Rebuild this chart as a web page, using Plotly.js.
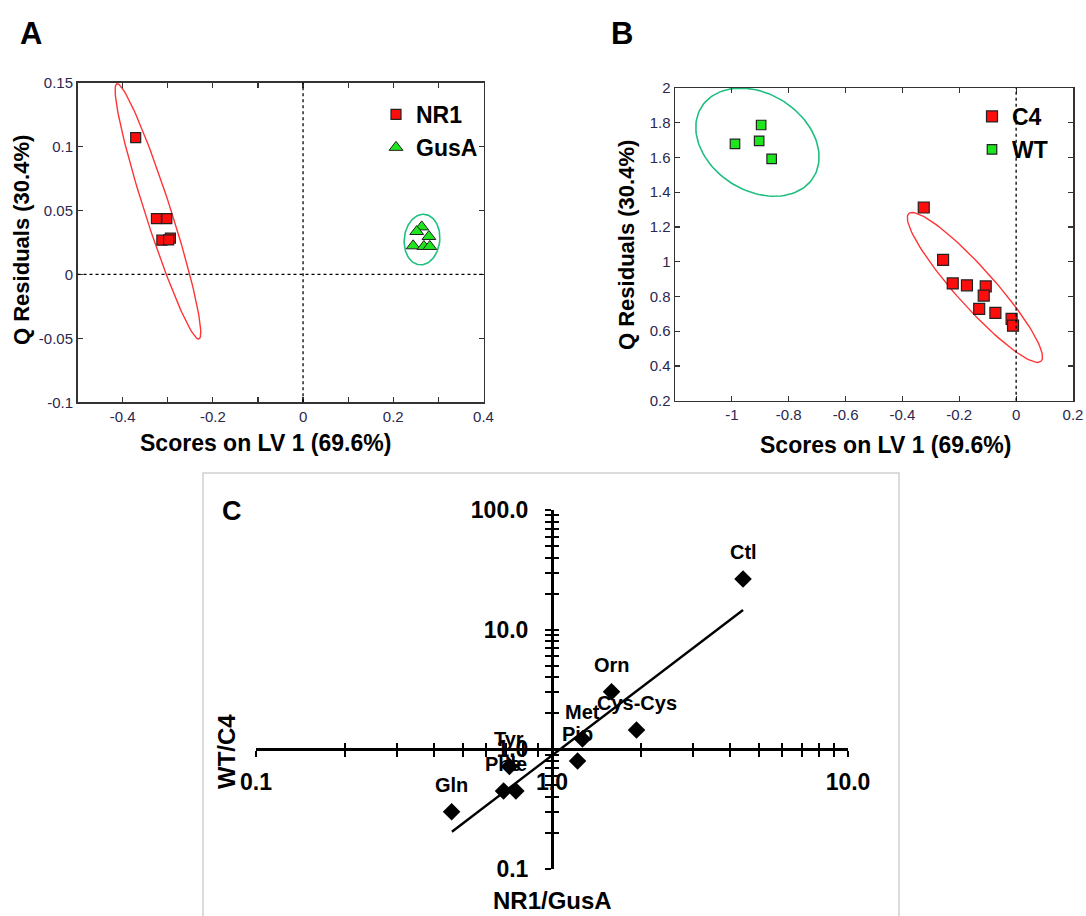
<!DOCTYPE html>
<html>
<head>
<meta charset="utf-8">
<script src="https://cdn.plot.ly/plotly-3.0.1.min.js"></script>
<style>html,body{margin:0;padding:0;background:#fff;}#chart{width:1086px;height:916px;}</style>
</head>
<body>
<div id="chart"></div>
<script>
// ---------- Panel A data ----------
const nr1X = [-0.371, -0.325, -0.302, -0.313, -0.294, -0.298];
const nr1Y = [0.107, 0.0437, 0.0437, 0.0268, 0.0284, 0.027];
const gusX = [0.263, 0.252, 0.279, 0.244, 0.268, 0.281];
const gusY = [0.0372, 0.0336, 0.0297, 0.0224, 0.0219, 0.0219];
// ellipse params: [centerX, centerY, u_x, u_y, v_x, v_y]
const nr1Ellipse = [-0.3217, 0.0493, 0.0909, -0.0998, 0.0271, 0.00305];
const gusEllipse = [0.2637, 0.0273, 0.0395, 0.0, 0.003, 0.0198];
const aXTickVals = [-0.4, -0.3, -0.2, -0.1, 0, 0.1, 0.2, 0.3, 0.4];
const aXTickText = ['-0.4', '', '-0.2', '', '0', '', '0.2', '', '0.4'];
const aYTickVals = [-0.1, -0.05, 0, 0.05, 0.1, 0.15];
const aYTickText = ['-0.1', '-0.05', '0', '0.05', '0.1', '0.15'];

// ---------- Panel B data ----------
const c4X = [-0.325, -0.257, -0.223, -0.173, -0.107, -0.114, -0.130, -0.073, -0.016, -0.011];
const c4Y = [1.312, 1.011, 0.875, 0.864, 0.858, 0.805, 0.728, 0.705, 0.671, 0.632];
const wtX = [-0.989, -0.897, -0.904, -0.860];
const wtY = [1.678, 1.787, 1.696, 1.592];
const c4Ellipse = [-0.145, 0.852, 0.232, -0.426, 0.052, 0.0695];
const wtEllipse = [-0.910, 1.688, 0.215, -0.046, -0.028, 0.308];
const bXTickVals = [-1, -0.8, -0.6, -0.4, -0.2, 0, 0.2];
const bXTickText = ['-1', '-0.8', '-0.6', '-0.4', '-0.2', '0', '0.2'];
const bYTickVals = [0.2, 0.4, 0.6, 0.8, 1, 1.2, 1.4, 1.6, 1.8, 2];
const bYTickText = ['0.2', '0.4', '0.6', '0.8', '1', '1.2', '1.4', '1.6', '1.8', '2'];

// ---------- Panel C data ----------
const cLabels = ['Ctl', 'Orn', 'Cys-Cys', 'Met', 'Pip', 'Tyr', 'Phe', 'Ile', 'Gln'];
const cX = [4.42, 1.589, 1.93, 1.267, 1.22, 0.718, 0.686, 0.755, 0.458];
const cY = [26.5, 3.03, 1.45, 1.22, 0.80, 0.72, 0.449, 0.449, 0.301];
const trendX = [0.459, 4.42];
const trendY = [0.205, 14.6];
const cXTickVals = [0.1, 0.2, 0.3, 0.4, 0.5, 0.6, 0.7, 0.8, 0.9, 1, 2, 3, 4, 5, 6, 7, 8, 9, 10];
const cXTickText = ['0.1', '', '', '', '', '', '', '', '', '1.0', '', '', '', '', '', '', '', '', '10.0'];
const cYTickVals = [0.1, 0.2, 0.3, 0.4, 0.5, 0.6, 0.7, 0.8, 0.9, 1, 2, 3, 4, 5, 6, 7, 8, 9, 10,
                    20, 30, 40, 50, 60, 70, 80, 90, 100];
const cYTickText = ['0.1', '', '', '', '', '', '', '', '', '1.0', '', '', '', '', '', '', '', '', '10.0',
                    '', '', '', '', '', '', '', '', '100.0'];

// ---------- helpers ----------
const W = 1086, H = 916;
const FONT = 'Liberation Sans, Arial, sans-serif';
const TICKCOL = '#2b2850';
function px(x) { return x / W; }
function py(y) { return 1 - y / H; }
function ellipsePts(p) {
  const xs = [], ys = [];
  for (let i = 0; i <= 120; i++) {
    const t = 2 * Math.PI * i / 120;
    xs.push(p[0] + p[2] * Math.cos(t) + p[4] * Math.sin(t));
    ys.push(p[1] + p[3] * Math.cos(t) + p[5] * Math.sin(t));
  }
  return {x: xs, y: ys};
}
const eNR1 = ellipsePts(nr1Ellipse), eGus = ellipsePts(gusEllipse);
const eC4 = ellipsePts(c4Ellipse), eWT = ellipsePts(wtEllipse);

const RED = '#ff0d0d', GREEN = '#1ee61e', ELL_RED = '#ff3535', ELL_GREEN = '#1fbf80';

const traces = [
  // Panel A
  {x: eNR1.x, y: eNR1.y, xaxis: 'x', yaxis: 'y', mode: 'lines', line: {color: ELL_RED, width: 1.4}, showlegend: false, hoverinfo: 'skip'},
  {x: eGus.x, y: eGus.y, xaxis: 'x', yaxis: 'y', mode: 'lines', line: {color: ELL_GREEN, width: 1.6}, showlegend: false, hoverinfo: 'skip'},
  {x: nr1X, y: nr1Y, xaxis: 'x', yaxis: 'y', mode: 'markers', name: 'NR1', legend: 'legend',
   marker: {symbol: 'square', size: 10, color: RED, line: {color: '#222', width: 1.2}}},
  {x: gusX, y: gusY, xaxis: 'x', yaxis: 'y', mode: 'markers', name: 'GusA', legend: 'legend',
   marker: {symbol: 'triangle-up', size: 12, color: GREEN, line: {color: '#222', width: 1}}},
  // Panel B
  {x: eWT.x, y: eWT.y, xaxis: 'x2', yaxis: 'y2', mode: 'lines', line: {color: ELL_GREEN, width: 1.6}, showlegend: false, hoverinfo: 'skip'},
  {x: eC4.x, y: eC4.y, xaxis: 'x2', yaxis: 'y2', mode: 'lines', line: {color: ELL_RED, width: 1.4}, showlegend: false, hoverinfo: 'skip'},
  {x: c4X, y: c4Y, xaxis: 'x2', yaxis: 'y2', mode: 'markers', name: 'C4', legend: 'legend2',
   marker: {symbol: 'square', size: 11, color: RED, line: {color: '#222', width: 1.2}}},
  {x: wtX, y: wtY, xaxis: 'x2', yaxis: 'y2', mode: 'markers', name: 'WT', legend: 'legend2',
   marker: {symbol: 'square', size: 9.5, color: GREEN, line: {color: '#222', width: 1.2}}},
  // Panel C
  {x: trendX, y: trendY, xaxis: 'x3', yaxis: 'y3', mode: 'lines', line: {color: '#000', width: 2.4}, showlegend: false, hoverinfo: 'skip'},
  {x: cX, y: cY, xaxis: 'x3', yaxis: 'y3', mode: 'markers', text: cLabels, showlegend: false,
   marker: {symbol: 'diamond', size: 13.5, color: '#000', line: {width: 0}}},
  // dummy traces for crossing (inside) ticks of panel C axes
  {x: [], y: [], xaxis: 'x4', yaxis: 'y3', mode: 'markers', showlegend: false, hoverinfo: 'skip'},
  {x: [], y: [], xaxis: 'x3', yaxis: 'y4', mode: 'markers', showlegend: false, hoverinfo: 'skip'}
];

const boxAxis = {
  showline: true, linecolor: '#333', linewidth: 1.5, mirror: 'ticks',
  ticks: 'inside', ticklen: 5, tickwidth: 1.2, tickcolor: '#333',
  showgrid: false, zeroline: false,
  tickfont: {family: FONT, size: 15, color: TICKCOL}
};

const cDomX = [px(256), px(848)];
const cDomY = [py(869), py(510)];
const cXPos = py(749.3);
const cYPos = px(552);
const cAxisCommon = {
  type: 'log', showgrid: false, zeroline: false,
  tickcolor: '#000', tickwidth: 2, ticklen: 6
};

const layout = {
  width: W, height: H,
  margin: {l: 0, r: 0, t: 0, b: 0},
  paper_bgcolor: '#fff', plot_bgcolor: 'rgba(0,0,0,0)',
  font: {family: FONT, color: '#000'},
  xaxis: Object.assign({}, boxAxis, {domain: [px(77.5), px(483.5)], range: [-0.5, 0.4], anchor: 'y',
    tickmode: 'array', tickvals: aXTickVals, ticktext: aXTickText}),
  yaxis: Object.assign({}, boxAxis, {domain: [py(402.3), py(82.7)], range: [-0.1, 0.15], anchor: 'x',
    tickmode: 'array', tickvals: aYTickVals, ticktext: aYTickText}),
  xaxis2: Object.assign({}, boxAxis, {domain: [px(675), px(1073)], range: [-1.2, 0.2], anchor: 'y2',
    tickmode: 'array', tickvals: bXTickVals, ticktext: bXTickText}),
  yaxis2: Object.assign({}, boxAxis, {domain: [py(400.7), py(88)], range: [0.2, 2], anchor: 'x2',
    tickmode: 'array', tickvals: bYTickVals, ticktext: bYTickText}),
  xaxis3: Object.assign({}, cAxisCommon, {domain: cDomX, range: [-1, 1], anchor: 'free', position: cXPos,
    showline: true, linecolor: '#000', linewidth: 2.6, ticks: 'outside',
    tickmode: 'array', tickvals: cXTickVals, ticktext: cXTickText, ticklabelstandoff: 5,
    tickfont: {family: FONT, size: 23, weight: 'bold', color: '#000'}}),
  yaxis3: Object.assign({}, cAxisCommon, {domain: cDomY, range: [-1, 2], anchor: 'free', position: cYPos,
    showline: true, linecolor: '#000', linewidth: 2.6, ticks: 'outside',
    tickmode: 'array', tickvals: cYTickVals, ticktext: cYTickText, ticklabelstandoff: 12,
    tickfont: {family: FONT, size: 23, weight: 'bold', color: '#000'}}),
  xaxis4: Object.assign({}, cAxisCommon, {domain: cDomX, range: [-1, 1], anchor: 'free', position: cXPos,
    overlaying: 'x3', showline: false, ticks: 'inside', showticklabels: false,
    tickmode: 'array', tickvals: cXTickVals}),
  yaxis4: Object.assign({}, cAxisCommon, {domain: cDomY, range: [-1, 2], anchor: 'free', position: cYPos,
    overlaying: 'y3', showline: false, ticks: 'inside', showticklabels: false,
    tickmode: 'array', tickvals: cYTickVals}),
  legend: {x: px(376), y: py(93), xanchor: 'left', yanchor: 'top', bgcolor: 'rgba(0,0,0,0)', borderwidth: 0,
    font: {family: FONT, size: 23, weight: 'bold', color: '#000'}, itemwidth: 30, tracegroupgap: 0},
  legend2: {x: px(972), y: py(95), xanchor: 'left', yanchor: 'top', bgcolor: 'rgba(0,0,0,0)', borderwidth: 0,
    font: {family: FONT, size: 23, weight: 'bold', color: '#000'}, itemwidth: 30, tracegroupgap: 0},
  shapes: [
    {type: 'line', xref: 'x', yref: 'y domain', x0: 0, x1: 0, y0: 0, y1: 1, line: {color: '#000', width: 1.3, dash: 'dot'}},
    {type: 'line', xref: 'x domain', yref: 'y', x0: 0, x1: 1, y0: 0, y1: 0, line: {color: '#000', width: 1.3, dash: 'dot'}},
    {type: 'line', xref: 'x2', yref: 'y2 domain', x0: 0, x1: 0, y0: 0, y1: 1, line: {color: '#000', width: 1.3, dash: 'dot'}},
    {type: 'rect', xref: 'paper', yref: 'paper', x0: px(203), x1: px(899), y0: -0.02, y1: py(473),
     line: {color: '#cfcfcf', width: 1.5}, fillcolor: 'rgba(0,0,0,0)', layer: 'below'}
  ],
  annotations: []
};

function ann(text, x, y, size, angle) {
  return {text: text, xref: 'paper', yref: 'paper', x: px(x), y: py(y), xanchor: 'center', yanchor: 'middle',
    showarrow: false, textangle: angle || 0, font: {family: FONT, size: size, weight: 'bold', color: '#000'}};
}
layout.annotations.push(ann('A', 31, 33, 31));
layout.annotations.push(ann('B', 622, 33, 31));
layout.annotations.push(ann('C', 232, 511, 27));
layout.annotations.push(ann('Scores on LV 1 (69.6%)', 265, 443, 23));
layout.annotations.push(ann('Q Residuals (30.4%)', 22, 240, 22, -90));
layout.annotations.push(ann('Scores on LV 1 (69.6%)', 885, 445, 23));
layout.annotations.push(ann('Q Residuals (30.4%)', 626, 245, 22, -90));
layout.annotations.push(ann('NR1/GusA', 552, 900, 24));
layout.annotations.push(ann('WT/C4', 226, 752, 24, -90));

for (let i = 0; i < cLabels.length; i++) {
  layout.annotations.push({
    text: cLabels[i], xref: 'x3', yref: 'y3', x: Math.log10(cX[i]), y: Math.log10(cY[i]),
    xanchor: 'center', yanchor: 'middle', yshift: 27, showarrow: false,
    font: {family: FONT, size: 20, weight: 'bold', color: '#000'}
  });
}

Plotly.newPlot('chart', traces, layout, {displayModeBar: false, staticPlot: true});
</script>
</body>
</html>
